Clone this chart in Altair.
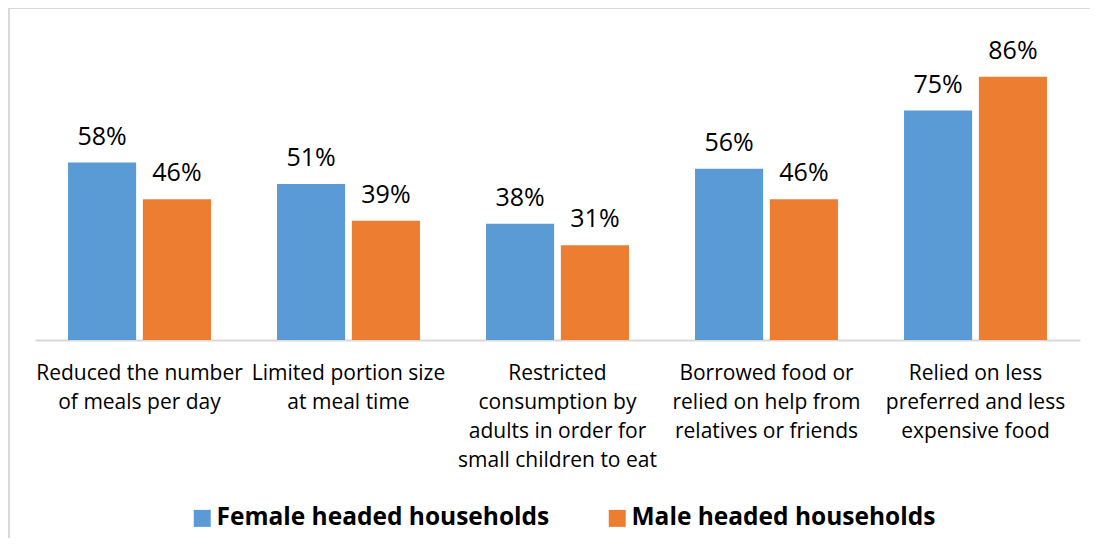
import altair as alt
import pandas as pd

categories = [
    "Reduced the number|of meals per day",
    "Limited portion size|at meal time",
    "Restricted|consumption by|adults in order for|small children to eat",
    "Borrowed food or|relied on help from|relatives or friends",
    "Relied on less|preferred and less|expensive food",
]
series = ["Female headed households", "Male headed households"]
female = [58, 51, 38, 56, 75]
male = [46, 39, 31, 46, 86]
colors = ["#5B9BD5", "#ED7D31"]

rows = []
for c, f, m in zip(categories, female, male):
    rows.append({"category": c, "series": series[0], "value": f})
    rows.append({"category": c, "series": series[1], "value": m})
df = pd.DataFrame(rows)

FONT = "Open Sans"

x_enc = alt.X(
    "category:N",
    sort=categories,
    scale=alt.Scale(paddingInner=0.316, paddingOuter=0.158),
    axis=alt.Axis(
        title=None,
        labelExpr="split(datum.label, '|')",
        labelAngle=0,
        labelFont=FONT,
        labelFontSize=21,
        labelLineHeight=29,
        labelColor="#000000",
        labelPadding=22,
        ticks=False,
        tickSize=0,
        domainColor="#D9D9D9",
        domainWidth=2,
        labelLimit=400,
    ),
)
xo_enc = alt.XOffset("series:N", sort=series, scale=alt.Scale(paddingInner=0.09))
y_enc = alt.Y("value:Q", scale=alt.Scale(domain=[0, 100]), axis=None)

base = alt.Chart(df)

bars = base.mark_bar().encode(
    x=x_enc,
    xOffset=xo_enc,
    y=y_enc,
    color=alt.Color(
        "series:N",
        sort=series,
        scale=alt.Scale(domain=series, range=colors),
        legend=alt.Legend(
            title=None,
            orient="none",
            direction="horizontal",
            legendX=155,
            legendY=472,
            symbolType="square",
            symbolSize=289,
            symbolStrokeWidth=0,
            labelFont=FONT,
            labelFontSize=24.5,
            labelFontWeight="bold",
            labelColor="#000000",
            labelOffset=2,
            columnPadding=55,
            padding=0,
            labelLimit=500,
        ),
    ),
)

labels = base.mark_text(
    baseline="alphabetic", dy=-18, font=FONT, fontSize=25, color="#000000"
).transform_calculate(lbl="datum.value + '%'").encode(
    x=x_enc, xOffset=xo_enc, y=y_enc, text="lbl:N"
)

border_data = alt.Data(values=[{"a": 1}])
top_line = alt.Chart(border_data).mark_rule(color="#D9D9D9", strokeWidth=2).encode(
    x=alt.value(-26), x2=alt.value(1070), y=alt.value(-26)
)
left_line = alt.Chart(border_data).mark_rule(color="#D9D9D9", strokeWidth=2).encode(
    x=alt.value(-26), y=alt.value(-26), y2=alt.value(520)
)

chart = alt.layer(bars, labels, top_line, left_line).properties(
    width=1045,
    height=306,
    autosize=alt.AutoSizeParams(type="none"),
    padding={"left": 27, "top": 26, "right": 10, "bottom": 198},
).configure(
    background="white",
    view=alt.ViewConfig(strokeWidth=0, stroke="transparent"),
)

chart.save("out.html", embed_options={"renderer": "svg", "actions": False})
